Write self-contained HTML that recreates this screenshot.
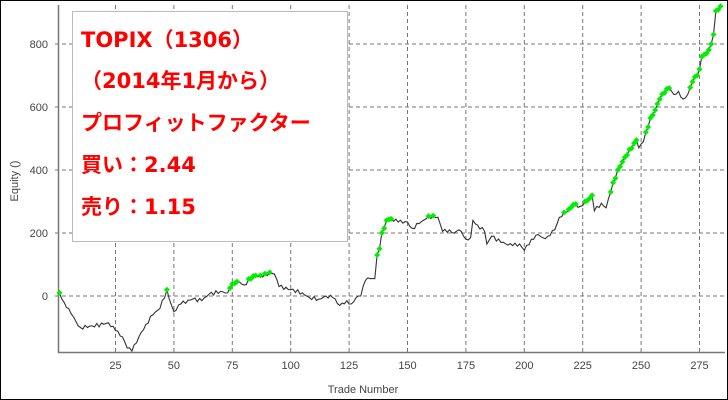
<!DOCTYPE html>
<html><head><meta charset="utf-8"><style>
body{margin:0;background:#fff}
#c{position:relative;width:726px;height:398px;border:1px solid #000;overflow:hidden;font-family:"Liberation Sans","Noto Sans CJK JP",sans-serif}
.box{position:absolute;left:71px;top:10px;width:274px;height:229px;border:1px solid #bbb;background:#fff}
.t{position:absolute;left:80px;color:#f00;font-weight:bold;font-size:21px;white-space:nowrap;font-family:"DejaVu Sans","Noto Sans CJK JP",sans-serif}
</style></head><body><div id="c">
<svg id="s" width="726" height="398" style="position:absolute;left:0;top:0" font-family="Liberation Sans, sans-serif" font-size="11" fill="#444"></svg>
<div class="box"></div>
<div class="t" style="top:23px">TOPIX（1306）</div>
<div class="t" style="top:64px">（2014年1月から）</div>
<div class="t" style="top:106px">プロフィットファクター</div>
<div class="t" style="top:148px">買い：2.44</div>
<div class="t" style="top:190px">売り：1.15</div>
</div>
<script>
var s=document.getElementById('s'),h='';
var X=function(t){return 56.1+t*2.336},Y=function(v){return 295-v*0.315};
[25,50,75,100,125,150,175,200,225,250,275].forEach(function(t){var x=X(t).toFixed(1);h+='<line x1="'+x+'" y1="4" x2="'+x+'" y2="351" stroke="#777" stroke-dasharray="4,3"/>';h+='<text x="'+x+'" y="368" text-anchor="middle">'+t+'</text>';});
[0,200,400,600,800].forEach(function(v){var y=Y(v).toFixed(1);h+='<line x1="54" y1="'+y+'" x2="724" y2="'+y+'" stroke="#777" stroke-dasharray="4,3"/>';h+='<text x="47" y="'+(Y(v)+4)+'" text-anchor="end">'+v+'</text>';});
h+='<line x1="57.5" y1="4" x2="57.5" y2="352" stroke="#777" stroke-width="1.5"/><line x1="57" y1="351.5" x2="724" y2="351.5" stroke="#777" stroke-width="1.5"/>';
h+='<text x="362" y="392" text-anchor="middle">Trade Number</text><text transform="translate(17,180) rotate(-90)" text-anchor="middle">Equity ()</text>';
var k=[[1,10],[3,-20],[5,-40],[8,-80],[10,-100],[15,-95],[20,-90],[22,-85],[25,-110],[28,-130],[30,-165],[32,-175],[35,-130],[38,-90],[41,-60],[44,-40],[47,20],[49,-30],[50,-50],[53,-25],[58,-10],[62,-15],[65,5],[70,15],[73,10],[74,25],[76,40],[78,45],[80,35],[83,55],[85,65],[88,60],[91,75],[93,70],[95,30],[100,20],[105,10],[108,-5],[112,-10],[115,0],[118,-5],[121,-30],[124,-15],[126,-25],[128,-5],[130,0],[132,50],[134,55],[136,55],[137,130],[138,150],[139,200],[140,215],[141,240],[143,245],[146,235],[150,235],[152,215],[155,230],[158,245],[161,255],[163,250],[165,205],[168,210],[170,200],[172,210],[174,190],[175,180],[177,185],[178,240],[180,225],[183,205],[184,165],[186,190],[190,170],[195,160],[198,165],[200,145],[203,180],[206,195],[208,185],[210,190],[213,210],[215,250],[217,265],[219,275],[221,290],[224,285],[226,300],[228,310],[229,320],[230,270],[233,295],[235,280],[237,330],[238,360],[240,400],[243,440],[245,465],[247,485],[248,495],[249,470],[251,490],[252,520],[254,565],[256,590],[258,625],[260,645],[262,660],[264,640],[266,650],[268,625],[270,640],[272,680],[274,700],[275,720],[276,760],[278,770],[280,800],[281,830],[282,905],[284,920]];
var pts=[],j=0;
for(var t=1;t<=284;t++){while(j<k.length-2&&k[j+1][0]<t)j++;var a=k[j],b=k[j+1];var v;if(t<=a[0])v=a[1];else{var f=(t-a[0])/(b[0]-a[0]);v=a[1]+(b[1]-a[1])*f;if(f>0&&f<1)v+=Math.sin(t*2.7)*6;}pts.push([t,v]);}
var d='';pts.forEach(function(p,i){d+=(i?'L':'M')+X(p[0]).toFixed(1)+','+Y(p[1]).toFixed(1);});
h+='<path d="'+d+'" fill="none" stroke="#333" stroke-width="1.1"/>';
var m=-1e9;pts.forEach(function(p){if(p[1]>m){m=p[1];var x=X(p[0]),y=Y(p[1]);h+='<path d="M'+(x-3)+','+y+'L'+x+','+(y-3)+'L'+(x+3)+','+y+'L'+x+','+(y+3)+'Z" fill="#00ee00"/>';}});
s.innerHTML=h;
</script></body></html>
